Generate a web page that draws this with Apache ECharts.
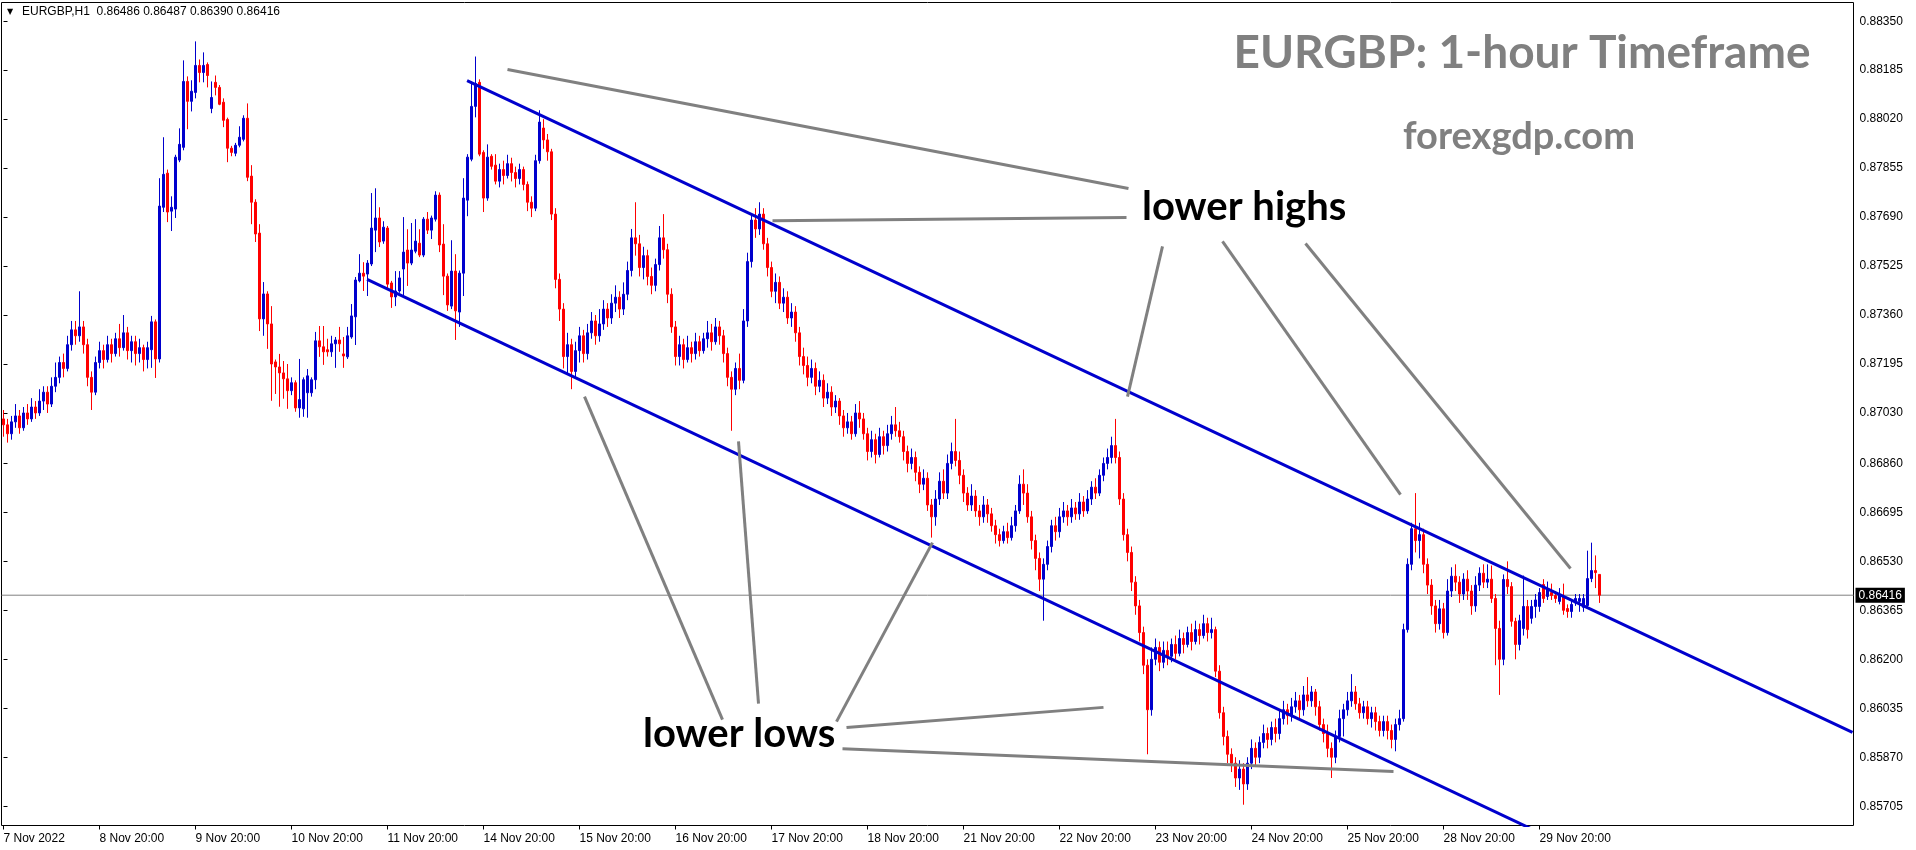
<!DOCTYPE html>
<html><head><meta charset="utf-8">
<script src="https://cdn.jsdelivr.net/npm/echarts@6/dist/echarts.min.js"></script>
<style>html,body{margin:0;padding:0;background:#fff}#c{width:1916px;height:850px}</style>
</head><body><div id="c"></div>
<script>
const symbolName = 'EURGBP,H1';
const lastOHLC = [0.86486, 0.86487, 0.86390, 0.86416];
const currentPrice = 0.86416;
const titleText = 'EURGBP: 1-hour Timeframe';
const siteText = 'forexgdp.com';
const xTickLabels = ['7 Nov 2022','8 Nov 20:00','9 Nov 20:00','10 Nov 20:00','11 Nov 20:00','14 Nov 20:00','15 Nov 20:00','16 Nov 20:00','17 Nov 20:00','18 Nov 20:00','21 Nov 20:00','22 Nov 20:00','23 Nov 20:00','24 Nov 20:00','25 Nov 20:00','28 Nov 20:00','29 Nov 20:00'];
const yTickValues = [0.85705,0.85870,0.86035,0.86200,0.86365,0.86530,0.86695,0.86860,0.87030,0.87195,0.87360,0.87525,0.87690,0.87855,0.88020,0.88185,0.88350];
// [open, close, low, high] per H1 bar, starting 7 Nov 2022 20:00
const candles = [
[0.87010,0.86990,0.86950,0.87040],[0.86990,0.86960,0.86930,0.87010],[0.86960,0.87000,0.86940,0.87020],[0.87000,0.87020,0.86980,0.87060],[0.87020,0.86980,0.86960,0.87040],[0.86980,0.87030,0.86970,0.87050],[0.87030,0.87010,0.86990,0.87060],[0.87010,0.87050,0.87000,0.87080],[0.87050,0.87030,0.87010,0.87070],[0.87030,0.87070,0.87020,0.87110],
[0.87070,0.87100,0.87040,0.87120],[0.87100,0.87060,0.87030,0.87120],[0.87060,0.87120,0.87050,0.87150],[0.87120,0.87150,0.87100,0.87200],[0.87150,0.87200,0.87130,0.87220],[0.87200,0.87180,0.87150,0.87230],[0.87180,0.87260,0.87170,0.87290],[0.87260,0.87310,0.87240,0.87340],[0.87310,0.87290,0.87260,0.87340],[0.87290,0.87320,0.87270,0.87440],
[0.87320,0.87260,0.87230,0.87340],[0.87260,0.87150,0.87120,0.87280],[0.87150,0.87100,0.87040,0.87170],[0.87100,0.87200,0.87090,0.87220],[0.87200,0.87240,0.87180,0.87270],[0.87240,0.87210,0.87180,0.87260],[0.87210,0.87260,0.87200,0.87290],[0.87260,0.87230,0.87200,0.87280],[0.87230,0.87280,0.87220,0.87300],[0.87280,0.87250,0.87220,0.87330],
[0.87250,0.87300,0.87240,0.87360],[0.87300,0.87240,0.87210,0.87320],[0.87240,0.87270,0.87200,0.87290],[0.87270,0.87230,0.87190,0.87290],[0.87230,0.87250,0.87200,0.87280],[0.87250,0.87210,0.87170,0.87260],[0.87210,0.87250,0.87180,0.87270],[0.87243,0.87337,0.87182,0.87357],[0.87337,0.87212,0.87148,0.87345],[0.87212,0.87727,0.87200,0.87821],
[0.87723,0.87834,0.87707,0.87959],[0.87838,0.87707,0.87673,0.87850],[0.87710,0.87723,0.87643,0.87760],[0.87717,0.87892,0.87687,0.87900],[0.87882,0.87935,0.87875,0.87989],[0.87925,0.88147,0.87915,0.88218],[0.88147,0.88080,0.87986,0.88164],[0.88080,0.88114,0.88046,0.88151],[0.88110,0.88201,0.88090,0.88282],[0.88201,0.88177,0.88144,0.88221],
[0.88177,0.88201,0.88144,0.88245],[0.88204,0.88167,0.88127,0.88211],[0.88056,0.88093,0.88040,0.88147],[0.88144,0.88127,0.88100,0.88167],[0.88127,0.88070,0.88067,0.88135],[0.88077,0.88016,0.87993,0.88090],[0.88019,0.87922,0.87875,0.88025],[0.87922,0.87908,0.87895,0.87930],[0.87905,0.87932,0.87895,0.87940],[0.87932,0.87959,0.87925,0.87996],
[0.87952,0.88023,0.87945,0.88033],[0.88023,0.87824,0.87811,0.88073],[0.87828,0.87740,0.87666,0.87865],[0.87740,0.87633,0.87606,0.87750],[0.87636,0.87347,0.87306,0.87666],[0.87347,0.87431,0.87290,0.87471],[0.87431,0.87330,0.87246,0.87440],[0.87330,0.87195,0.87071,0.87390],[0.87202,0.87185,0.87094,0.87210],[0.87185,0.87165,0.87051,0.87229],
[0.87165,0.87145,0.87078,0.87205],[0.87145,0.87105,0.87044,0.87195],[0.87105,0.87132,0.87090,0.87150],[0.87132,0.87047,0.87034,0.87140],[0.87047,0.87075,0.87014,0.87212],[0.87044,0.87142,0.87017,0.87150],[0.87098,0.87155,0.87014,0.87178],[0.87098,0.87142,0.87085,0.87150],[0.87142,0.87273,0.87110,0.87303],[0.87273,0.87253,0.87219,0.87323],
[0.87253,0.87236,0.87192,0.87323],[0.87243,0.87236,0.87220,0.87280],[0.87236,0.87263,0.87219,0.87290],[0.87263,0.87276,0.87182,0.87286],[0.87276,0.87263,0.87236,0.87320],[0.87229,0.87222,0.87182,0.87286],[0.87219,0.87290,0.87212,0.87320],[0.87286,0.87357,0.87280,0.87397],[0.87354,0.87478,0.87259,0.87488],[0.87475,0.87501,0.87470,0.87565],
[0.87501,0.87491,0.87441,0.87538],[0.87498,0.87535,0.87424,0.87545],[0.87532,0.87653,0.87525,0.87771],[0.87646,0.87687,0.87572,0.87787],[0.87687,0.87606,0.87589,0.87723],[0.87609,0.87656,0.87600,0.87676],[0.87653,0.87464,0.87451,0.87660],[0.87468,0.87421,0.87384,0.87475],[0.87421,0.87441,0.87390,0.87508],[0.87441,0.87485,0.87435,0.87508],
[0.87515,0.87572,0.87424,0.87690],[0.87579,0.87535,0.87458,0.87649],[0.87535,0.87579,0.87528,0.87670],[0.87575,0.87609,0.87568,0.87683],[0.87602,0.87562,0.87555,0.87649],[0.87562,0.87683,0.87555,0.87690],[0.87683,0.87646,0.87633,0.87707],[0.87646,0.87687,0.87616,0.87695],[0.87683,0.87764,0.87675,0.87777],[0.87764,0.87596,0.87572,0.87773],
[0.87599,0.87491,0.87427,0.87666],[0.87491,0.87394,0.87374,0.87500],[0.87390,0.87508,0.87380,0.87612],[0.87508,0.87374,0.87276,0.87565],[0.87370,0.87501,0.87320,0.87510],[0.87501,0.87754,0.87424,0.87821],[0.87747,0.87892,0.87693,0.87902],[0.87885,0.88063,0.87878,0.88147],[0.88063,0.88140,0.88026,0.88231],[0.88144,0.87902,0.87895,0.88154],
[0.87908,0.87754,0.87707,0.87915],[0.87754,0.87892,0.87745,0.87935],[0.87895,0.87861,0.87850,0.87902],[0.87865,0.87811,0.87800,0.87902],[0.87811,0.87850,0.87790,0.87870],[0.87850,0.87830,0.87800,0.87880],[0.87830,0.87870,0.87820,0.87900],[0.87870,0.87840,0.87810,0.87890],[0.87840,0.87820,0.87790,0.87860],[0.87820,0.87850,0.87800,0.87870],
[0.87850,0.87800,0.87780,0.87860],[0.87800,0.87740,0.87710,0.87810],[0.87740,0.87720,0.87690,0.87760],[0.87720,0.87880,0.87710,0.87900],[0.87880,0.88010,0.87870,0.88050],[0.87990,0.87950,0.87920,0.88020],[0.87950,0.87910,0.87880,0.87970],[0.87910,0.87700,0.87680,0.87920],[0.87700,0.87480,0.87450,0.87720],[0.87480,0.87380,0.87340,0.87500],
[0.87380,0.87220,0.87180,0.87400],[0.87220,0.87260,0.87160,0.87300],[0.87260,0.87170,0.87110,0.87280],[0.87170,0.87240,0.87150,0.87270],[0.87240,0.87290,0.87200,0.87320],[0.87290,0.87230,0.87200,0.87310],[0.87230,0.87300,0.87210,0.87330],[0.87300,0.87340,0.87280,0.87370],[0.87340,0.87290,0.87260,0.87360],[0.87290,0.87330,0.87270,0.87380],
[0.87330,0.87380,0.87310,0.87410],[0.87380,0.87350,0.87320,0.87400],[0.87350,0.87400,0.87330,0.87430],[0.87400,0.87420,0.87370,0.87460],[0.87420,0.87380,0.87350,0.87440],[0.87380,0.87430,0.87360,0.87470],[0.87430,0.87510,0.87410,0.87540],[0.87510,0.87620,0.87490,0.87650],[0.87620,0.87600,0.87560,0.87740],[0.87600,0.87520,0.87490,0.87630],
[0.87520,0.87560,0.87480,0.87590],[0.87560,0.87490,0.87460,0.87580],[0.87490,0.87460,0.87430,0.87520],[0.87460,0.87530,0.87440,0.87550],[0.87530,0.87620,0.87510,0.87660],[0.87620,0.87580,0.87550,0.87700],[0.87580,0.87430,0.87400,0.87600],[0.87430,0.87320,0.87300,0.87450],[0.87320,0.87220,0.87190,0.87340],[0.87220,0.87260,0.87190,0.87290],
[0.87260,0.87210,0.87180,0.87280],[0.87210,0.87250,0.87200,0.87290],[0.87250,0.87230,0.87200,0.87270],[0.87230,0.87270,0.87210,0.87300],[0.87270,0.87240,0.87220,0.87290],[0.87240,0.87280,0.87230,0.87300],[0.87280,0.87300,0.87250,0.87340],[0.87300,0.87270,0.87240,0.87330],[0.87270,0.87320,0.87260,0.87350],[0.87320,0.87290,0.87260,0.87340],
[0.87290,0.87230,0.87200,0.87310],[0.87230,0.87150,0.87120,0.87250],[0.87150,0.87110,0.86970,0.87170],[0.87110,0.87180,0.87090,0.87200],[0.87180,0.87140,0.87110,0.87230],[0.87140,0.87340,0.87130,0.87380],[0.87340,0.87540,0.87320,0.87570],[0.87540,0.87680,0.87520,0.87700],[0.87680,0.87650,0.87620,0.87720],[0.87650,0.87700,0.87630,0.87740],
[0.87700,0.87600,0.87580,0.87720],[0.87600,0.87520,0.87490,0.87620],[0.87520,0.87440,0.87420,0.87540],[0.87440,0.87470,0.87400,0.87500],[0.87470,0.87400,0.87380,0.87490],[0.87400,0.87420,0.87370,0.87450],[0.87420,0.87350,0.87330,0.87440],[0.87350,0.87370,0.87320,0.87400],[0.87370,0.87300,0.87270,0.87390],[0.87300,0.87220,0.87190,0.87320],
[0.87220,0.87190,0.87160,0.87250],[0.87190,0.87150,0.87120,0.87220],[0.87150,0.87180,0.87130,0.87210],[0.87180,0.87120,0.87090,0.87200],[0.87120,0.87140,0.87100,0.87170],[0.87140,0.87080,0.87050,0.87160],[0.87080,0.87100,0.87060,0.87130],[0.87100,0.87050,0.87020,0.87120],[0.87050,0.87070,0.87030,0.87090],[0.87070,0.87020,0.86990,0.87080],
[0.87020,0.86980,0.86950,0.87040],[0.86980,0.87000,0.86960,0.87030],[0.87000,0.86960,0.86940,0.87020],[0.86960,0.87030,0.86950,0.87060],[0.87030,0.87010,0.86980,0.87070],[0.87010,0.86960,0.86940,0.87030],[0.86960,0.86900,0.86870,0.86980],[0.86900,0.86940,0.86880,0.86970],[0.86940,0.86890,0.86860,0.86960],[0.86890,0.86950,0.86880,0.86980],
[0.86950,0.86920,0.86890,0.86970],[0.86920,0.86960,0.86900,0.86990],[0.86960,0.86990,0.86940,0.87020],[0.86990,0.86970,0.86950,0.87050],[0.86970,0.86950,0.86930,0.87000],[0.86950,0.86900,0.86870,0.86970],[0.86900,0.86860,0.86830,0.86920],[0.86860,0.86880,0.86840,0.86910],[0.86880,0.86830,0.86800,0.86900],[0.86830,0.86790,0.86760,0.86850],
[0.86790,0.86810,0.86770,0.86840],[0.86810,0.86720,0.86700,0.86830],[0.86720,0.86680,0.86610,0.86740],[0.86680,0.86740,0.86650,0.86770],[0.86740,0.86800,0.86720,0.86830],[0.86800,0.86760,0.86740,0.86840],[0.86760,0.86860,0.86740,0.86890],[0.86860,0.86900,0.86840,0.86930],[0.86900,0.86870,0.86850,0.87010],[0.86870,0.86820,0.86790,0.86900],
[0.86820,0.86760,0.86730,0.86840],[0.86760,0.86720,0.86700,0.86780],[0.86720,0.86750,0.86700,0.86790],[0.86750,0.86700,0.86680,0.86770],[0.86700,0.86680,0.86650,0.86720],[0.86680,0.86720,0.86660,0.86750],[0.86720,0.86690,0.86660,0.86740],[0.86690,0.86650,0.86630,0.86710],[0.86650,0.86620,0.86590,0.86670],[0.86620,0.86600,0.86580,0.86640],
[0.86600,0.86630,0.86590,0.86650],[0.86630,0.86610,0.86590,0.86660],[0.86610,0.86650,0.86600,0.86680],[0.86650,0.86700,0.86630,0.86720],[0.86700,0.86790,0.86690,0.86820],[0.86790,0.86760,0.86720,0.86840],[0.86760,0.86680,0.86660,0.86790],[0.86680,0.86600,0.86570,0.86700],[0.86600,0.86540,0.86500,0.86620],[0.86540,0.86470,0.86430,0.86560],
[0.86470,0.86520,0.86330,0.86540],[0.86520,0.86580,0.86500,0.86600],[0.86580,0.86650,0.86560,0.86670],[0.86650,0.86630,0.86600,0.86680],[0.86630,0.86680,0.86610,0.86710],[0.86680,0.86700,0.86660,0.86730],[0.86700,0.86680,0.86650,0.86720],[0.86680,0.86710,0.86660,0.86740],[0.86710,0.86690,0.86670,0.86730],[0.86690,0.86730,0.86670,0.86760],
[0.86730,0.86700,0.86680,0.86750],[0.86700,0.86740,0.86690,0.86770],[0.86740,0.86780,0.86720,0.86800],[0.86780,0.86760,0.86740,0.86810],[0.86760,0.86820,0.86750,0.86840],[0.86820,0.86860,0.86800,0.86880],[0.86860,0.86880,0.86840,0.86910],[0.86880,0.86920,0.86860,0.86950],[0.86920,0.86880,0.86860,0.87010],[0.86880,0.86740,0.86720,0.86900],
[0.86740,0.86620,0.86600,0.86760],[0.86620,0.86560,0.86530,0.86640],[0.86560,0.86460,0.86430,0.86580],[0.86460,0.86380,0.86350,0.86480],[0.86380,0.86290,0.86260,0.86400],[0.86290,0.86180,0.86150,0.86310],[0.86180,0.86030,0.85880,0.86200],[0.86030,0.86200,0.86010,0.86240],[0.86200,0.86240,0.86180,0.86270],[0.86240,0.86190,0.86160,0.86260],
[0.86190,0.86230,0.86170,0.86260],[0.86230,0.86210,0.86180,0.86260],[0.86210,0.86250,0.86190,0.86270],[0.86250,0.86220,0.86200,0.86280],[0.86220,0.86270,0.86210,0.86300],[0.86270,0.86250,0.86220,0.86290],[0.86250,0.86290,0.86240,0.86310],[0.86290,0.86260,0.86230,0.86320],[0.86260,0.86300,0.86250,0.86330],[0.86300,0.86280,0.86250,0.86320],
[0.86280,0.86320,0.86270,0.86350],[0.86320,0.86290,0.86260,0.86340],[0.86290,0.86300,0.86270,0.86340],[0.86300,0.86160,0.86140,0.86310],[0.86160,0.86020,0.86000,0.86180],[0.86020,0.85940,0.85910,0.86040],[0.85940,0.85880,0.85850,0.85960],[0.85880,0.85850,0.85820,0.85900],[0.85850,0.85800,0.85770,0.85870],[0.85800,0.85830,0.85760,0.85860],
[0.85830,0.85780,0.85710,0.85850],[0.85780,0.85850,0.85760,0.85870],[0.85850,0.85900,0.85830,0.85930],[0.85900,0.85870,0.85840,0.85920],[0.85870,0.85920,0.85850,0.85940],[0.85920,0.85950,0.85900,0.85980],[0.85950,0.85930,0.85900,0.85970],[0.85930,0.85970,0.85910,0.85990],[0.85970,0.85950,0.85920,0.86000],[0.85950,0.86000,0.85930,0.86030],
[0.86000,0.86030,0.85980,0.86060],[0.86030,0.86010,0.85980,0.86050],[0.86010,0.86040,0.85990,0.86070],[0.86040,0.86060,0.86020,0.86090],[0.86060,0.86030,0.86000,0.86080],[0.86030,0.86080,0.86010,0.86110],[0.86080,0.86060,0.86040,0.86140],[0.86060,0.86090,0.86040,0.86110],[0.86090,0.86040,0.86010,0.86100],[0.86040,0.85980,0.85960,0.86060],
[0.85980,0.85950,0.85920,0.86000],[0.85950,0.85900,0.85870,0.85980],[0.85900,0.85870,0.85800,0.85920],[0.85870,0.85940,0.85850,0.85960],[0.85940,0.86000,0.85920,0.86030],[0.86000,0.86030,0.85940,0.86050],[0.86030,0.86060,0.86010,0.86090],[0.86060,0.86090,0.86040,0.86150],[0.86090,0.86050,0.86030,0.86110],[0.86050,0.86020,0.86000,0.86070],
[0.86020,0.86040,0.86000,0.86060],[0.86040,0.86000,0.85980,0.86060],[0.86000,0.86020,0.85970,0.86040],[0.86020,0.85990,0.85960,0.86040],[0.85990,0.85960,0.85940,0.86010],[0.85960,0.85990,0.85940,0.86010],[0.85990,0.85960,0.85930,0.86010],[0.85960,0.85930,0.85900,0.85980],[0.85930,0.85980,0.85890,0.86000],[0.85980,0.86000,0.85960,0.86030],
[0.86000,0.86300,0.85990,0.86320],[0.86300,0.86520,0.86290,0.86540],[0.86520,0.86640,0.86500,0.86660],[0.86640,0.86600,0.86560,0.86760],[0.86600,0.86620,0.86540,0.86660],[0.86620,0.86520,0.86490,0.86640],[0.86520,0.86450,0.86420,0.86540],[0.86450,0.86380,0.86350,0.86470],[0.86380,0.86320,0.86290,0.86400],[0.86320,0.86370,0.86300,0.86400],
[0.86370,0.86290,0.86270,0.86390],[0.86290,0.86430,0.86280,0.86470],[0.86430,0.86480,0.86410,0.86510],[0.86480,0.86460,0.86430,0.86520],[0.86460,0.86420,0.86390,0.86480],[0.86420,0.86470,0.86400,0.86490],[0.86470,0.86430,0.86400,0.86500],[0.86430,0.86380,0.86350,0.86450],[0.86380,0.86450,0.86360,0.86480],[0.86450,0.86490,0.86430,0.86510],
[0.86490,0.86460,0.86440,0.86520],[0.86460,0.86470,0.86440,0.86520],[0.86470,0.86405,0.86390,0.86516],[0.86405,0.86304,0.86180,0.86420],[0.86304,0.86200,0.86080,0.86330],[0.86200,0.86469,0.86180,0.86486],[0.86469,0.86445,0.86420,0.86530],[0.86445,0.86328,0.86310,0.86460],[0.86328,0.86250,0.86200,0.86340],[0.86250,0.86330,0.86230,0.86350],
[0.86304,0.86378,0.86280,0.86482],[0.86378,0.86300,0.86270,0.86400],[0.86338,0.86378,0.86320,0.86400],[0.86378,0.86400,0.86340,0.86420],[0.86378,0.86425,0.86360,0.86440],[0.86452,0.86405,0.86390,0.86470],[0.86412,0.86435,0.86400,0.86462],[0.86425,0.86415,0.86400,0.86455],[0.86415,0.86405,0.86390,0.86430],[0.86395,0.86418,0.86385,0.86440],
[0.86412,0.86365,0.86350,0.86455],[0.86371,0.86361,0.86340,0.86385],[0.86361,0.86385,0.86340,0.86400],[0.86390,0.86405,0.86380,0.86420],[0.86395,0.86405,0.86360,0.86420],[0.86375,0.86405,0.86360,0.86420],[0.86381,0.86472,0.86370,0.86566],[0.86472,0.86499,0.86460,0.86593],[0.86499,0.86492,0.86440,0.86550],[0.86486,0.86416,0.86390,0.86487]
];
// channel lines, [bar index, price]
const upperChannel = [[115.9, 0.88150], [462.25, 0.85954]];
const lowerChannel = [[90.9, 0.87480], [400, 0.85514]];
// grey pointer segments, [bar index, price]
const highPointers = [
  [[126, 0.88187], [281.25, 0.87786]],
  [[192.25, 0.87678], [280.75, 0.87689]],
  [[289.75, 0.87591], [281, 0.87085]],
  [[304.75, 0.87608], [349.25, 0.86755]],
  [[325.5, 0.87601], [391.75, 0.86506]]
];
const lowPointers = [
  [[145.25, 0.87085], [179.75, 0.85997]],
  [[183.75, 0.86934], [188.75, 0.86051]],
  [[232.25, 0.86593], [208.25, 0.85990]],
  [[210.75, 0.85970], [275, 0.86038]],
  [[209.75, 0.85899], [347.5, 0.85822]]
];

const SLOTS = 463;
const Y_MIN = 0.85640, Y_MAX = 0.88413;
const BLUE = '#0000CD', RED = '#FF0000', GREY = '#808080';
const AXFONT = 'Liberation Sans';

// hourly category names, weekends skipped
const MONTHS = ['Jan','Feb','Mar','Apr','May','Jun','Jul','Aug','Sep','Oct','Nov','Dec'];
const barTimes = [];
let t = Date.UTC(2022, 10, 7, 20);
while (barTimes.length < SLOTS) {
  const d = new Date(t);
  const wd = d.getUTCDay();
  if (wd !== 0 && wd !== 6) {
    barTimes.push(d.getUTCDate() + ' ' + MONTHS[d.getUTCMonth()] + ' ' + String(d.getUTCHours()).padStart(2, '0') + ':00');
  }
  t += 3600000;
}
const isTick = (i) => i % 24 === 0 && i / 24 < xTickLabels.length;

const segSeries = (seg, color, width) => ({
  type: 'line', xAxisIndex: 1, yAxisIndex: 0, data: seg, symbol: 'none', silent: true,
  lineStyle: { color: color, width: width }, z: 5, animation: false, clip: true
});

const chart = echarts.init(document.getElementById('c'));
const option = {
  animation: false,
  backgroundColor: '#fff',
  grid: { left: 1.5, top: 2.5, width: 1852, height: 823, show: true, borderColor: '#000', borderWidth: 1, backgroundColor: '#fff' },
  xAxis: [
    {
      type: 'category', data: barTimes, boundaryGap: true,
      axisLine: { show: false },
      axisTick: { show: true, alignWithLabel: true, interval: (i) => isTick(i), length: 4, lineStyle: { color: '#000' } },
      axisLabel: { interval: (i) => isTick(i), formatter: (v, i) => xTickLabels[i / 24] || '', align: 'left', margin: 7, color: '#000', fontFamily: AXFONT, fontSize: 12 },
      splitLine: { show: false }
    },
    { type: 'value', min: -0.5, max: SLOTS - 0.5, show: false, splitLine: { show: false } }
  ],
  yAxis: {
    type: 'value', position: 'right', min: Y_MIN, max: Y_MAX,
    axisLine: { show: false }, splitLine: { show: false },
    axisTick: { show: true, length: 4, customValues: yTickValues, lineStyle: { color: '#000' } },
    axisLabel: { customValues: yTickValues, formatter: (v) => v.toFixed(5), margin: 6, color: '#000', fontFamily: AXFONT, fontSize: 12 }
  },
  series: [
    {
      type: 'line', xAxisIndex: 1, yAxisIndex: 0, silent: true, symbol: 'none', z: 1, animation: false,
      data: [[-0.5, currentPrice], [SLOTS - 0.5, currentPrice]],
      lineStyle: { color: GREY, width: 1 },
      endLabel: { show: true, formatter: () => currentPrice.toFixed(5), color: '#fff', backgroundColor: '#000', padding: [2, 3, 1, 3], fontFamily: AXFONT, fontSize: 12, distance: 2 }
    },
    {
      type: 'candlestick', data: candles, barWidth: 2, z: 2,
      itemStyle: { color: BLUE, color0: RED, borderColor: BLUE, borderColor0: RED, borderWidth: 1 }
    },
    segSeries(upperChannel, BLUE, 3),
    segSeries(lowerChannel, BLUE, 3),
    ...highPointers.map(s => segSeries(s, GREY, 3)),
    ...lowPointers.map(s => segSeries(s, GREY, 3))
  ],
  graphic: [
    { type: 'text', x: 7, y: 12, z: 20, style: { text: '▼', font: '8px "DejaVu Sans"', fill: '#000', textAlign: 'left', textVerticalAlign: 'middle' } },
    { type: 'text', x: 22, y: 12, z: 20, style: { text: symbolName + '  ' + lastOHLC.map(v => v.toFixed(5)).join(' '), font: '12px "Liberation Sans"', fill: '#000', textAlign: 'left', textVerticalAlign: 'middle' } },
    { type: 'text', x: 1522, y: 53, z: 20, style: { text: titleText, font: 'bold 46px Lato', fill: GREY, textAlign: 'center', textVerticalAlign: 'middle' } },
    { type: 'text', x: 1519, y: 137, z: 20, style: { text: siteText, font: 'bold 38px Lato', fill: GREY, textAlign: 'center', textVerticalAlign: 'middle' } },
    { type: 'text', x: 1142, y: 207, z: 20, style: { text: 'lower highs', font: 'bold 40px Lato', fill: '#000', textAlign: 'left', textVerticalAlign: 'middle' } },
    { type: 'text', x: 643, y: 734, z: 20, style: { text: 'lower lows', font: 'bold 40px Lato', fill: '#000', textAlign: 'left', textVerticalAlign: 'middle' } }
  ]
};
chart.setOption(option);
</script>
</body></html>
